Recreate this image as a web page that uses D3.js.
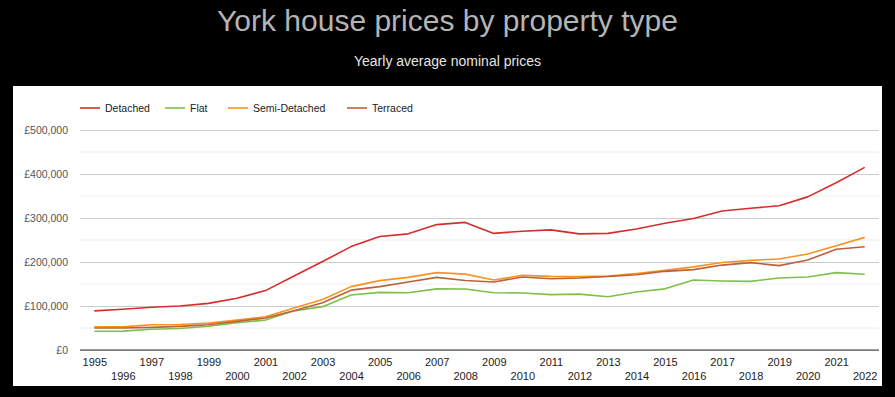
<!DOCTYPE html>
<html>
<head>
<meta charset="utf-8">
<script src="https://cdn.jsdelivr.net/npm/d3@7"></script>
<style>
  body { margin: 0; background: #000; }
  svg { display: block; font-family: Arial, "Liberation Sans", sans-serif; }
</style>
</head>
<body>
<script>
// Chart data
var years = d3.range(1995, 2023).map(String);
var seriesNames = ["Detached", "Flat", "Semi-Detached", "Terraced"];
var seriesColors = ["#d62c2c", "#7fbf4a", "#f7931e", "#c0603a"];

var detached = [89000, 92500, 97000, 100000, 106000, 117500, 135000, 168000, 201000, 235000,
  258000, 264000, 285000, 290000, 265000, 270000, 273000, 264000, 265000, 275000,
  288000, 299000, 316000, 322000, 328000, 348000, 380000, 415000];
var flat = [42500, 43000, 47000, 49000, 54000, 62000, 68000, 89000, 98500, 125000,
  131000, 130000, 139000, 138500, 130000, 129500, 125800, 127000, 121000, 131800,
  139000, 159000, 156800, 156000, 163600, 166000, 175800, 172000];
var semiDetached = [53000, 52500, 57500, 58000, 61000, 68000, 75700, 95500, 115000, 144000,
  157600, 165000, 175800, 172500, 159000, 169700, 167400, 166700, 168000, 174000,
  181000, 189000, 199000, 203800, 206800, 218000, 237000, 256000];
var terraced = [50000, 50000, 51500, 53800, 57500, 65000, 72700, 89000, 107600, 136000,
  144000, 154500, 165000, 158000, 154500, 166000, 162000, 163600, 167000, 171000,
  178800, 182600, 193000, 198500, 191700, 204500, 228800, 234800];
var yTicks = [0, 100000, 200000, 300000, 400000, 500000];

var allSeries = [detached, flat, semiDetached, terraced];

// Dimensions
var svgWidth = 895;
var svgHeight = 397;
var margin = { top: 130, right: 16, bottom: 47, left: 80 };
var chartWidth = svgWidth - margin.left - margin.right;
var chartHeight = svgHeight - margin.top - margin.bottom;

var svg = d3.select("body")
  .append("svg")
  .attr("width", svgWidth)
  .attr("height", svgHeight);

// Title and subtitle on the black background
svg.append("text")
  .attr("x", svgWidth / 2)
  .attr("y", 31)
  .attr("text-anchor", "middle")
  .attr("fill", "#b4b4b4")
  .style("font-size", "30px")
  .text("York house prices by property type");

svg.append("text")
  .attr("x", svgWidth / 2)
  .attr("y", 66)
  .attr("text-anchor", "middle")
  .attr("fill", "#e6e6e6")
  .style("font-size", "14px")
  .text("Yearly average nominal prices");

// White chart panel
svg.append("rect")
  .attr("x", 13)
  .attr("y", 86)
  .attr("width", 869)
  .attr("height", 300)
  .attr("fill", "#fff");

var chartGroup = svg.append("g")
  .attr("transform", `translate(${margin.left}, ${margin.top})`);

// Scales
var xScale = d3.scalePoint()
  .domain(years)
  .range([0, chartWidth])
  .padding(0.5);

var yScale = d3.scaleLinear()
  .domain([0, 500000])
  .range([chartHeight, 0]);

// Minor gridlines every 50k
chartGroup.append("g")
  .selectAll("line")
  .data(d3.range(50000, 500000, 100000))
  .join("line")
  .attr("x1", 0)
  .attr("x2", chartWidth)
  .attr("y1", d => yScale(d))
  .attr("y2", d => yScale(d))
  .attr("stroke", "#ececec")
  .attr("stroke-width", 1);

// Left axis with major gridlines
var leftAxis = d3.axisLeft(yScale)
  .tickValues(yTicks)
  .tickSize(-chartWidth)
  .tickPadding(12)
  .tickFormat(d => "£" + d3.format(",")(d));

chartGroup.append("g")
  .call(leftAxis)
  .call(g => g.select(".domain").remove())
  .call(g => g.selectAll(".tick line").attr("stroke", "#cccccc"))
  .call(g => g.selectAll(".tick text")
    .attr("fill", "#555")
    .style("font-size", "10.5px")
    .style("font-family", "Arial, 'Liberation Sans', sans-serif"));

// Baseline
chartGroup.append("line")
  .attr("x1", 0)
  .attr("x2", chartWidth)
  .attr("y1", yScale(0))
  .attr("y2", yScale(0))
  .attr("stroke", "#333")
  .attr("stroke-width", 1);

// Bottom axis, labels alternating on two rows
var bottomAxis = d3.axisBottom(xScale).tickSize(0).tickPadding(8);

chartGroup.append("g")
  .attr("transform", "translate(0, " + chartHeight + ")")
  .call(bottomAxis)
  .call(g => g.select(".domain").remove())
  .call(g => g.selectAll(".tick text")
    .attr("fill", "#222")
    .attr("dy", (d, i) => i % 2 === 0 ? "0.71em" : "1.98em")
    .style("font-size", "11px")
    .style("font-family", "Arial, 'Liberation Sans', sans-serif"));

// Lines
var drawLine = d3.line()
  .x((d, i) => xScale(years[i]))
  .y(d => yScale(d));

chartGroup.selectAll(".series")
  .data(allSeries)
  .join("path")
  .attr("class", "series")
  .attr("d", d => drawLine(d))
  .attr("fill", "none")
  .attr("stroke", (d, i) => seriesColors[i])
  .attr("stroke-width", 1.6)
  .attr("stroke-linejoin", "round");

// Legend
var legendX = [80, 165, 228, 347];
var legend = svg.append("g")
  .attr("transform", "translate(0, 108)");

var items = legend.selectAll("g")
  .data(seriesNames)
  .join("g")
  .attr("transform", (d, i) => `translate(${legendX[i]}, 0)`);

items.append("line")
  .attr("x1", 0)
  .attr("x2", 20)
  .attr("stroke", (d, i) => seriesColors[i])
  .attr("stroke-width", 1.6);

items.append("text")
  .attr("x", 25)
  .attr("dy", "0.35em")
  .attr("fill", "#222")
  .style("font-size", "10.5px")
  .text(d => d);
</script>
</body>
</html>
